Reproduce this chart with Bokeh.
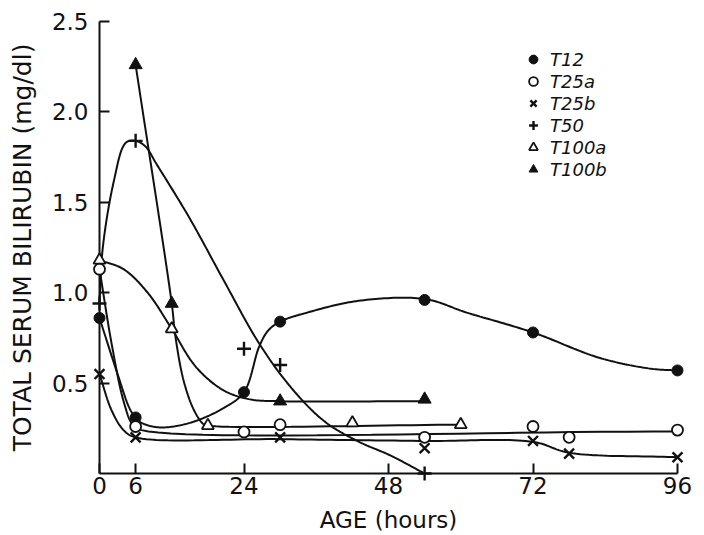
import numpy as np
from bokeh.plotting import figure
from bokeh.models import Range1d, FixedTicker, PrintfTickFormatter
from bokeh.embed import file_html
from bokeh.resources import INLINE

# ---------------- data ----------------
x_ticks = [0, 6, 24, 48, 72, 96]
y_ticks = [0.5, 1.0, 1.5, 2.0, 2.5]

# measured points (hours, mg/dl)
t12_hours = [0, 6, 24, 30, 54, 72, 96]
t12_vals = [0.86, 0.31, 0.45, 0.84, 0.96, 0.78, 0.57]

t25a_hours = [0, 6, 24, 30, 54, 72, 78, 96]
t25a_vals = [1.13, 0.26, 0.23, 0.27, 0.20, 0.26, 0.20, 0.24]

t25b_hours = [0, 6, 30, 54, 72, 78, 96]
t25b_vals = [0.55, 0.20, 0.20, 0.14, 0.18, 0.11, 0.09]

t50_hours = [0, 6, 24, 30, 54]
t50_vals = [0.94, 1.84, 0.69, 0.60, 0.0]

t100a_hours = [0, 12, 18, 42, 60]
t100a_vals = [1.18, 0.80, 0.265, 0.28, 0.27]

t100b_hours = [6, 12, 30, 54]
t100b_vals = [2.26, 0.94, 0.40, 0.41]

# hand-drawn trend curves (knots)
t12_curve_h = [0, 3, 5, 6, 7, 10, 15, 20.5, 24, 26.5, 28, 30, 34.5, 43, 54, 61, 72, 83, 91.5, 96]
t12_curve_v = [0.86, 0.55, 0.36, 0.31, 0.28, 0.255, 0.28, 0.36, 0.45, 0.70, 0.79, 0.84, 0.89, 0.955, 0.965, 0.89, 0.78, 0.64, 0.58, 0.57]

t25a_curve_h = [0, 2, 4, 5.5, 7, 96]
t25a_curve_v = [1.13, 0.72, 0.40, 0.27, 0.24, 0.232]

t25b_curve_h = [0, 2, 4, 6, 30, 54, 72, 78, 96]
t25b_curve_v = [0.55, 0.35, 0.24, 0.20, 0.19, 0.18, 0.175, 0.115, 0.09]

t50_curve_h = [0, 0.4, 1.3, 2.4, 3.8, 4.6, 6, 7.6, 9.5, 15, 20.6, 26.5, 31.7, 37.3, 42.8, 48.3, 54]
t50_curve_v = [0.94, 1.20, 1.43, 1.62, 1.80, 1.835, 1.84, 1.81, 1.71, 1.41, 1.07, 0.72, 0.48, 0.29, 0.18, 0.10, 0.0]

t100a_curve_h = [0, 4, 8, 12, 16, 20.6, 25, 30, 54]
t100a_curve_v = [1.18, 1.13, 1.0, 0.80, 0.59, 0.46, 0.41, 0.40, 0.40]

t100b_curve_h = [6, 12, 12.6, 14, 15.7, 17.2, 18, 60]
t100b_curve_v = [2.26, 0.94, 0.76, 0.51, 0.35, 0.275, 0.265, 0.27]

# ---------------- layout ----------------
W, H = 704, 535
FL, FR, FT, FB = 99, 27, 21, 62
X0, X1, Y0, Y1 = 0, 96, 0, 2.5
sx = (W - FL - FR) / (X1 - X0)
sy = (H - FT - FB) / (Y1 - Y0)


def smooth(hx, vy, n=24, alpha=0.5):
    """Centripetal Catmull-Rom through the knots, computed in screen space."""
    P = np.column_stack([np.asarray(hx, float) * sx, np.asarray(vy, float) * sy])
    if len(P) < 3:
        return list(hx), list(vy)
    ext = np.vstack([2 * P[0] - P[1], P, 2 * P[-1] - P[-2]])
    out = []
    for i in range(1, len(ext) - 2):
        p0, p1, p2, p3 = ext[i - 1], ext[i], ext[i + 1], ext[i + 2]
        def tj(ti, a, b):
            return ti + max(np.linalg.norm(b - a), 1e-6) ** alpha
        t0 = 0.0
        t1 = tj(t0, p0, p1)
        t2 = tj(t1, p1, p2)
        t3 = tj(t2, p2, p3)
        t = np.linspace(t1, t2, n)[:, None]
        A1 = (t1 - t) / (t1 - t0) * p0 + (t - t0) / (t1 - t0) * p1
        A2 = (t2 - t) / (t2 - t1) * p1 + (t - t1) / (t2 - t1) * p2
        A3 = (t3 - t) / (t3 - t2) * p2 + (t - t2) / (t3 - t2) * p3
        B1 = (t2 - t) / (t2 - t0) * A1 + (t - t0) / (t2 - t0) * A2
        B2 = (t3 - t) / (t3 - t1) * A2 + (t - t1) / (t3 - t1) * A3
        C = (t2 - t) / (t2 - t1) * B1 + (t - t1) / (t2 - t1) * B2
        out.append(C if i == 1 else C[1:])
    C = np.vstack(out)
    return list(C[:, 0] / sx), list(C[:, 1] / sy)


p = figure(width=W, height=H, output_backend="svg", toolbar_location=None,
           x_range=Range1d(X0, X1), y_range=Range1d(Y0, Y1),
           min_border_left=FL, min_border_right=FR,
           min_border_top=FT, min_border_bottom=FB,
           background_fill_color="white", border_fill_color="white")

p.grid.visible = False
p.outline_line_color = None

FONT = "DejaVu Sans"
INK = "#111111"

for ax in (p.xaxis[0], p.yaxis[0]):
    ax.axis_line_width = 2
    ax.axis_line_color = INK
    ax.major_tick_in = 10
    ax.major_tick_out = 0
    ax.major_tick_line_width = 2
    ax.major_tick_line_color = INK
    ax.minor_tick_line_color = None
    ax.major_label_text_font = FONT
    ax.major_label_text_font_size = "23px"
    ax.major_label_text_color = INK
    ax.axis_label_text_font = FONT
    ax.axis_label_text_font_style = "normal"
    ax.axis_label_text_color = INK

p.xaxis.ticker = FixedTicker(ticks=x_ticks)
p.yaxis.ticker = FixedTicker(ticks=y_ticks)
p.yaxis.formatter = PrintfTickFormatter(format="%.1f")
p.xaxis.major_label_standoff = 3
p.yaxis.major_label_standoff = 11
p.xaxis.axis_label = "AGE (hours)"
p.yaxis.axis_label = "TOTAL SERUM BILIRUBIN (mg/dl)"
p.xaxis.axis_label_text_font_size = "23px"
p.yaxis.axis_label_text_font_size = "25px"
p.xaxis.axis_label_standoff = 10
p.yaxis.axis_label_standoff = 12

# trend curves
for ch, cv in [(t12_curve_h, t12_curve_v), (t25a_curve_h, t25a_curve_v),
               (t25b_curve_h, t25b_curve_v), (t50_curve_h, t50_curve_v),
               (t100a_curve_h, t100a_curve_v), (t100b_curve_h, t100b_curve_v)]:
    xs, ys = smooth(ch, cv)
    r = p.line(xs, ys, line_color=INK, line_width=2)
    r.level = "annotation"

# markers
specs = [
    ("T12", t12_hours, t12_vals, dict(marker="circle", size=11, fill_color=INK, line_color=INK, line_width=1)),
    ("T25a", t25a_hours, t25a_vals, dict(marker="circle", size=11, fill_color="white", line_color=INK, line_width=1.8)),
    ("T25b", t25b_hours, t25b_vals, dict(marker="x", size=14, line_color=INK, line_width=2.4)),
    ("T50", t50_hours, t50_vals, dict(marker="cross", size=14, line_color=INK, line_width=2.4)),
    ("T100a", t100a_hours, t100a_vals, dict(marker="triangle", size=12, fill_color="white", line_color=INK, line_width=1.8)),
    ("T100b", t100b_hours, t100b_vals, dict(marker="triangle", size=13, fill_color=INK, line_color=INK, line_width=1)),
]
for name, hx, vy, kw in specs:
    r = p.scatter(hx, vy, legend_label=name, **kw)
    r.level = "overlay"

lg = p.legend[0]
lg.location = (421, 293)
lg.border_line_color = None
lg.background_fill_alpha = 0
lg.padding = 0
lg.margin = 0
lg.spacing = 0
lg.glyph_width = 26
lg.glyph_height = 22
lg.label_height = 22
lg.label_standoff = 4
lg.label_text_font = FONT
lg.label_text_font_style = "italic"
lg.label_text_font_size = "18px"
lg.label_text_color = INK

open("out.html", "w").write(file_html(p, INLINE))
